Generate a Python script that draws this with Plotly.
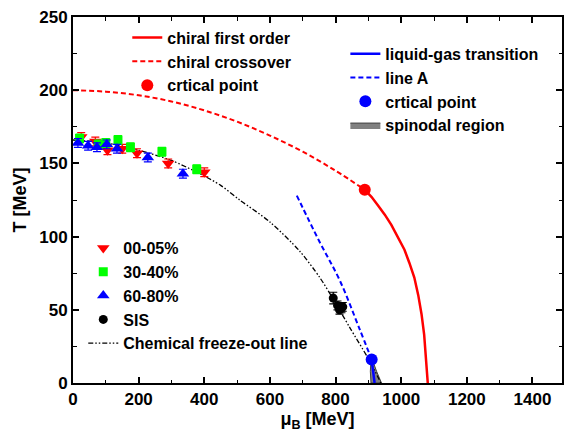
import plotly.graph_objects as go

# Chiral transition (model curves)
crossover_mu = [0, 100, 200, 300, 400, 500, 600, 700, 800, 889]
crossover_T = [200, 199, 196.5, 192.3, 186.2, 178.5, 169, 158, 145, 132]
first_order_mu = [889, 910, 930, 950, 970, 990, 1010, 1025, 1040, 1052, 1062, 1070, 1076, 1079, 1081]
first_order_T = [132, 127, 121, 115, 108, 100, 91, 82, 72, 60, 47, 33, 18, 8, 0]
chiral_cp_mu = [889]
chiral_cp_T = [132]

# Liquid-gas transition
lg_mu = [910, 913, 916, 919]
lg_T = [16, 10, 5, 0]
lineA_mu = [682, 750, 813, 873, 910]
lineA_T = [128, 97, 70, 37, 16]
lg_cp_mu = [910]
lg_cp_T = [16]
spin_mu = [908, 906, 908, 940, 925, 912, 908]
spin_T = [16, 8, 0, 0, 8, 16, 16]

# Freeze-out data
c0005_mu = [25, 68, 105, 150, 195, 290, 400]
c0005_T = [168, 165, 159, 160, 157, 150, 144]
c3040_mu = [20, 77, 100, 137, 175, 271, 377]
c3040_T = [167, 163, 164, 166, 161, 158, 146]
c6080_mu = [15, 46, 73, 103, 134, 228, 335]
c6080_T = [164, 162, 161, 163, 160, 154, 143]
star_err = [3, 3, 3, 3, 3, 3, 3]
sis_mu = [793, 806, 812, 818, 822]
sis_T = [58, 53, 50, 51, 52]
sis_err = [4, 3, 3, 3, 3]

fo_mu = [0, 100, 200, 300, 386, 450, 508, 600, 691, 752, 791, 843, 904, 938]
fo_T = [166, 164, 159, 152, 143, 135, 125, 110, 90, 72, 58, 38, 15, 0]

x_ticks = [0, 200, 400, 600, 800, 1000, 1200, 1400]
y_ticks = [0, 50, 100, 150, 200, 250]

RED = "#FF0000"
BLUE = "#0000FF"
GREEN = "#00FF00"
FONT = "Liberation Sans"

fig = go.Figure()

# spinodal (drawn first, below)
fig.add_trace(go.Scatter(x=spin_mu, y=spin_T, mode="lines", fill="toself",
                         fillcolor="#808080", line=dict(color="#404040", width=1),
                         name="spinodal region", legend="legend2", legendrank=4))

fig.add_trace(go.Scatter(x=fo_mu, y=fo_T, mode="lines",
                         line=dict(color="black", width=1.3, dash="5px,2px,1.5px,2px,1.5px,2px",
                                   shape="spline", smoothing=0.8),
                         name="Chemical freeze-out line", legend="legend3", legendrank=5))

fig.add_trace(go.Scatter(x=first_order_mu, y=first_order_T, mode="lines",
                         line=dict(color=RED, width=2.5),
                         name="chiral first order", legend="legend", legendrank=1))
fig.add_trace(go.Scatter(x=crossover_mu, y=crossover_T, mode="lines",
                         line=dict(color=RED, width=2, dash="5px,3px", shape="spline"),
                         name="chiral crossover", legend="legend", legendrank=2))

fig.add_trace(go.Scatter(x=lg_mu, y=lg_T, mode="lines",
                         line=dict(color=BLUE, width=2.5),
                         name="liquid-gas transition", legend="legend2", legendrank=1))
fig.add_trace(go.Scatter(x=lineA_mu, y=lineA_T, mode="lines",
                         line=dict(color=BLUE, width=2, dash="5px,3px", shape="spline"),
                         name="line A", legend="legend2", legendrank=2))

# data
fig.add_trace(go.Scatter(x=c0005_mu, y=c0005_T, mode="markers",
                         marker=dict(symbol="triangle-down", color=RED, size=11),
                         error_y=dict(type="data", array=star_err, color=RED, thickness=1.2, width=4),
                         name="00-05%", legend="legend3", legendrank=1))
fig.add_trace(go.Scatter(x=c3040_mu, y=c3040_T, mode="markers",
                         marker=dict(symbol="square", color=GREEN, size=9),
                         error_y=dict(type="data", array=star_err, color=GREEN, thickness=1.2, width=4),
                         name="30-40%", legend="legend3", legendrank=2))
fig.add_trace(go.Scatter(x=c6080_mu, y=c6080_T, mode="markers",
                         marker=dict(symbol="triangle-up", color=BLUE, size=11),
                         error_y=dict(type="data", array=star_err, color=BLUE, thickness=1.2, width=4),
                         name="60-80%", legend="legend3", legendrank=3))
fig.add_trace(go.Scatter(x=sis_mu, y=sis_T, mode="markers",
                         marker=dict(symbol="circle", color="black", size=9),
                         error_y=dict(type="data", array=sis_err, color="black", thickness=1.2, width=4),
                         name="SIS", legend="legend3", legendrank=4))

fig.add_trace(go.Scatter(x=chiral_cp_mu, y=chiral_cp_T, mode="markers",
                         marker=dict(symbol="circle", color=RED, size=12),
                         name="crtical point", legend="legend", legendrank=3))
fig.add_trace(go.Scatter(x=lg_cp_mu, y=lg_cp_T, mode="markers",
                         marker=dict(symbol="circle", color=BLUE, size=12),
                         name="crtical point", legend="legend2", legendrank=3))

leg_font = dict(family=FONT, size=16, color="black", weight="bold")
common_leg = dict(bgcolor="rgba(0,0,0,0)", borderwidth=0, font=leg_font,
                  tracegroupgap=0, xanchor="left", yanchor="top", traceorder="normal")

axis_common = dict(showline=True, linecolor="black", linewidth=2, mirror="allticks",
                   ticks="inside", ticklen=6, tickwidth=1.5, tickcolor="black",
                   showgrid=False, zeroline=False, automargin=False,
                   tickfont=dict(family=FONT, size=17, color="black", weight="bold"),
                   title_font=dict(family=FONT, size=18, color="black", weight="bold"))

fig.update_layout(
    width=564, height=434,
    margin=dict(l=73, r=2, t=17, b=51),
    paper_bgcolor="white", plot_bgcolor="white",
    font=dict(family=FONT, color="black", weight="bold"),
    xaxis=dict(range=[0, 1490], tickvals=x_ticks, title=dict(text="μ<sub>B</sub> [MeV]", standoff=4),
               minor=dict(ticks="inside", ticklen=3.5, tickwidth=1.2, tickcolor="black", dtick=100),
               **axis_common),
    yaxis=dict(range=[0, 250], tickvals=y_ticks, title=dict(text="T [MeV]", standoff=8),
               minor=dict(ticks="inside", ticklen=3.5, tickwidth=1.2, tickcolor="black", dtick=25),
               **axis_common),
    legend=dict(x=0.111, y=0.99, **common_leg),
    legend2=dict(x=0.557, y=0.946, **common_leg),
    legend3=dict(x=0.021, y=0.415, **common_leg),
    showlegend=True,
)

fig.write_html("out.html", config={"displayModeBar": False},
               post_script="document.body.style.margin='0';document.body.style.overflow='hidden';")
